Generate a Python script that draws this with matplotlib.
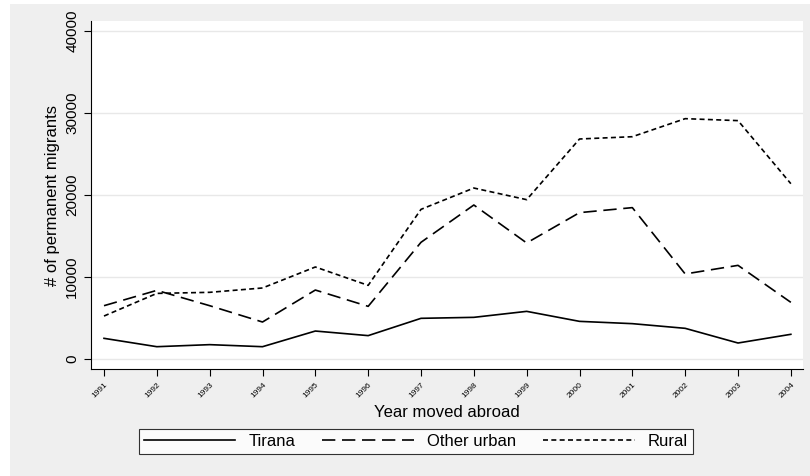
import matplotlib.pyplot as plt
from matplotlib.patches import Rectangle

years = list(range(1991, 2005))
tirana = [2520, 1500, 1750, 1500, 3410, 2850, 4960, 5080, 5810, 4590, 4310, 3740, 1950, 3010]
other_urban = [6500, 8370, 6500, 4510, 8410, 6420, 14230, 18780, 14150, 17850, 18460, 10370, 11420, 6910]
rural = [5240, 8000, 8130, 8660, 11220, 8980, 18250, 20850, 19430, 26830, 27110, 29310, 29070, 21380]
yticks = [0, 10000, 20000, 30000, 40000]

plt.rcParams['font.family'] = ['Liberation Sans', 'DejaVu Sans']
fig = plt.figure(figsize=(8.1, 4.76), dpi=100)
fig.patch.set_facecolor('white')
fig.patches.append(Rectangle((10 / 810, 0), 800 / 810, 472 / 476, transform=fig.transFigure,
                             facecolor='#efefef', edgecolor='none', zorder=-10))

ax = fig.add_axes([91 / 810, 1 - 369 / 476, 712 / 810, 348 / 476])
ax.set_facecolor('white')
ax.plot(years, tirana, color='black', lw=1.2, ls='-', label='Tirana')
ax.plot(years, other_urban, color='black', lw=1.2, ls=(0, (8, 4)), label='Other urban')
ax.plot(years, rural, color='black', lw=1.2, ls=(0, (3, 2)), label='Rural')

ax.set_xlim(1991 - 0.246, 2004 + 0.23)
ax.set_ylim(-1220, 41220)
ax.set_xticks(years)
ax.set_xticklabels([str(y) for y in years], rotation=45, fontsize=6, ha='right', rotation_mode='anchor')
ax.set_yticks(yticks)
ax.set_yticklabels([str(v) for v in yticks], rotation=90, fontsize=11, va='center')
ax.grid(axis='y', color='#e8e8e8', lw=1)
ax.set_axisbelow(True)
for s in ['top', 'right']:
    ax.spines[s].set_visible(False)
ax.tick_params(length=5, width=0.8, color='black')
ax.set_xlabel('Year moved abroad', fontsize=12, labelpad=4)
ax.set_ylabel('# of permanent migrants', fontsize=12, labelpad=4)

leg = fig.legend(loc='center', bbox_to_anchor=(416 / 810, 1 - 441 / 476), ncol=3, fontsize=12,
                 frameon=True, fancybox=False, edgecolor='black', handlelength=5.5,
                 columnspacing=1.6, borderpad=0.3)
leg.get_frame().set_linewidth(0.8)

fig.savefig('out.png', dpi=100, facecolor=fig.get_facecolor())
